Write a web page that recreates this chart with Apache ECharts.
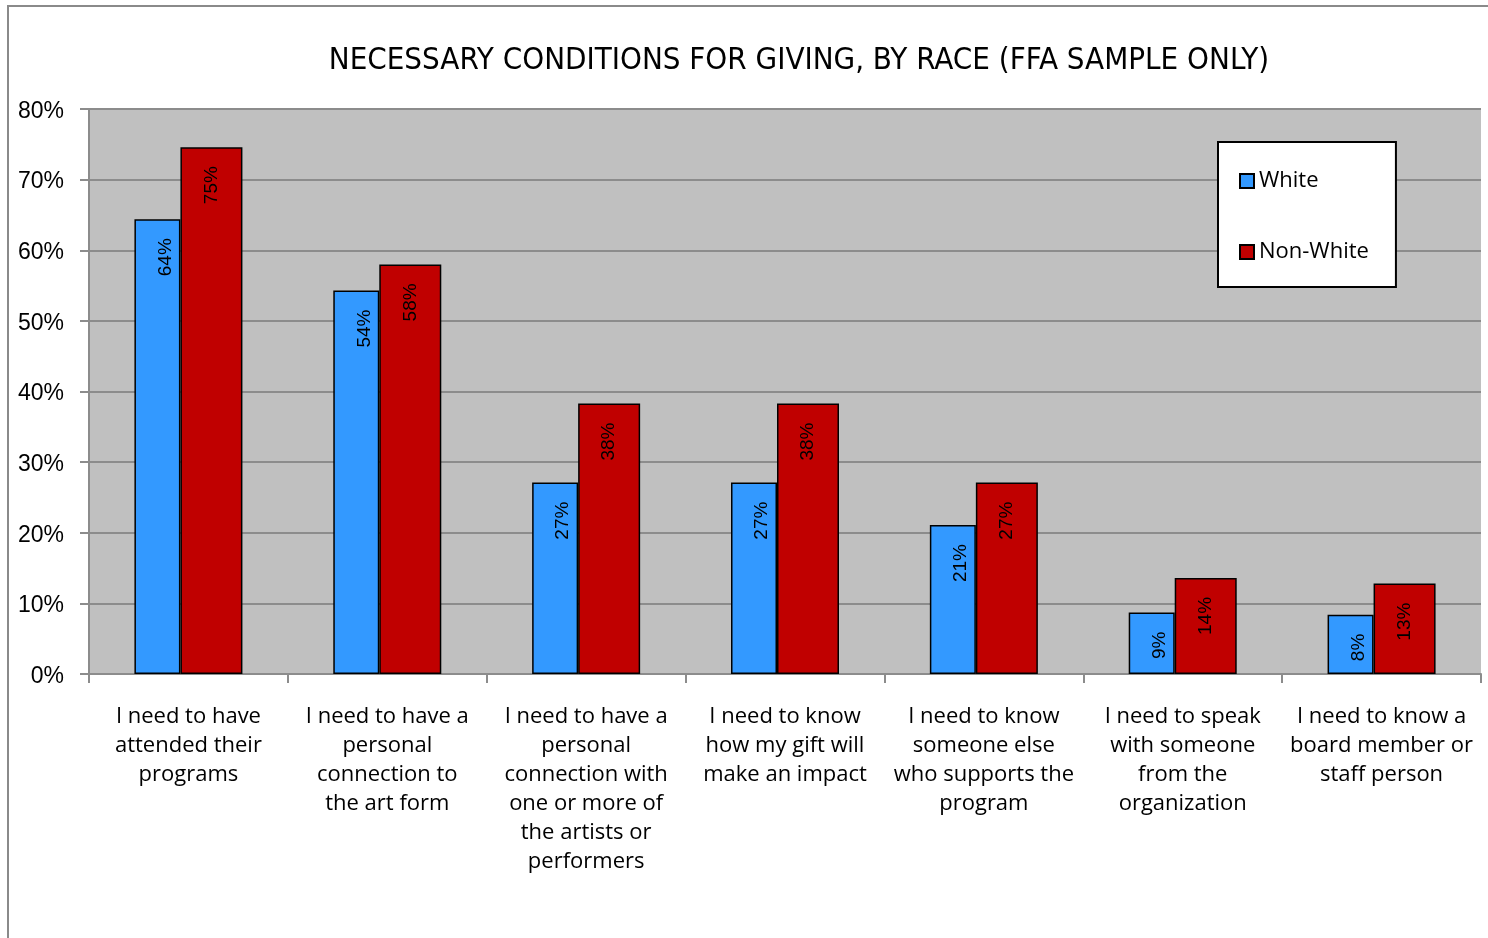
<!DOCTYPE html>
<html>
<head>
<meta charset="utf-8">
<script src="https://cdn.jsdelivr.net/npm/echarts@6/dist/echarts.min.js"></script>
<style>
  html, body { margin: 0; padding: 0; background: #fff; }
  #chart { width: 1488px; height: 938px; }
</style>
</head>
<body>
<div id="chart"></div>
<script>
// Survey answers: share of respondents naming each condition as necessary for giving
const categories = [
  'I need to have\nattended their\nprograms',
  'I need to have a\npersonal\nconnection to\nthe art form',
  'I need to have a\npersonal\nconnection with\none or more of\nthe artists or\nperformers',
  'I need to know\nhow my gift will\nmake an impact',
  'I need to know\nsomeone else\nwho supports the\nprogram',
  'I need to speak\nwith someone\nfrom the\norganization',
  'I need to know a\nboard member or\nstaff person'
];
const seriesNames = ['White', 'Non-White'];
const whiteValues = [0.644, 0.543, 0.271, 0.271, 0.211, 0.087, 0.084];
const nonWhiteValues = [0.746, 0.580, 0.383, 0.383, 0.271, 0.136, 0.128];
const yTicks = { min: 0, max: 0.8, interval: 0.1 };

const chart = echarts.init(document.getElementById('chart'));
const baseFont = 'Open Sans, Liberation Sans, sans-serif';
const numFont = 'Liberation Sans, Arial, sans-serif';

function pct(v) { return Math.round(v * 100) + '%'; }

// Value labels are turned to read upwards and sit just under the bar top
function barLabel(shiftRight) {
  return {
    show: true,
    position: 'insideTop',
    distance: 19,
    rotate: 90,
    align: 'right',
    verticalAlign: 'middle',
    offset: [0, shiftRight],
    color: '#000',
    fontFamily: numFont,
    fontSize: 19,
    formatter: p => pct(p.value)
  };
}

chart.setOption({
  backgroundColor: '#ffffff',
  animation: false,
  graphic: [{
    type: 'rect',
    shape: { x: 8, y: 6, width: 1520, height: 1000 },
    style: { fill: 'none', stroke: '#8a8a8a', lineWidth: 2 },
    silent: true
  }],
  title: {
    text: 'NECESSARY CONDITIONS FOR GIVING, BY RACE (FFA SAMPLE ONLY)',
    left: 794,
    top: 40,
    textAlign: 'center',
    textStyle: {
      fontFamily: 'Liberation Sans Narrow, DejaVu Sans Condensed, sans-serif',
      fontWeight: 'normal',
      fontSize: 31,
      color: '#000'
    }
  },
  legend: {
    orient: 'vertical',
    left: 1218,
    top: 142,
    backgroundColor: '#ffffff',
    borderColor: '#000',
    borderWidth: 2,
    padding: [26, 27, 22, 21],
    itemGap: 45,
    itemWidth: 14,
    itemHeight: 14,
    icon: 'rect',
    textStyle: { fontFamily: baseFont, fontSize: 22, color: '#000', lineHeight: 26 },
    data: seriesNames
  },
  grid: { left: 89, top: 109, right: 7, bottom: 264, containLabel: false, backgroundColor: '#c0c0c0', show: true, borderWidth: 0 },
  xAxis: {
    type: 'category',
    data: categories,
    axisLine: { show: true, lineStyle: { color: '#8c8c8c', width: 2 } },
    axisTick: { show: true, length: 9, interval: 0, lineStyle: { color: '#8c8c8c', width: 2 } },
    axisLabel: {
      interval: 0,
      margin: 28,
      color: '#000',
      fontFamily: baseFont,
      fontSize: 22,
      lineHeight: 29,
      align: 'center'
    }
  },
  yAxis: {
    type: 'value',
    min: yTicks.min,
    max: yTicks.max,
    interval: yTicks.interval,
    axisLine: { show: true, lineStyle: { color: '#8c8c8c', width: 2 } },
    axisTick: { show: true, length: 9, lineStyle: { color: '#8c8c8c', width: 2 } },
    splitLine: { show: true, lineStyle: { color: '#8c8c8c', width: 2 } },
    axisLabel: {
      margin: 25,
      verticalAlign: 'top',
      padding: [-9, 0, 0, 0],
      color: '#000',
      fontFamily: numFont,
      fontSize: 23,
      formatter: v => Math.round(v * 100) + '%'
    }
  },
  series: [
    {
      name: seriesNames[0],
      type: 'bar',
      data: whiteValues,
      barWidth: 46,
      barGap: '0%',
      itemStyle: { color: '#3399ff', borderColor: '#000', borderWidth: 1.5 },
      label: barLabel(8)
    },
    {
      name: seriesNames[1],
      type: 'bar',
      data: nonWhiteValues,
      barWidth: 62,
      barGap: '0%',
      itemStyle: { color: '#c00000', borderColor: '#000', borderWidth: 1.5 },
      label: barLabel(0)
    }
  ]
});
</script>
</body>
</html>
